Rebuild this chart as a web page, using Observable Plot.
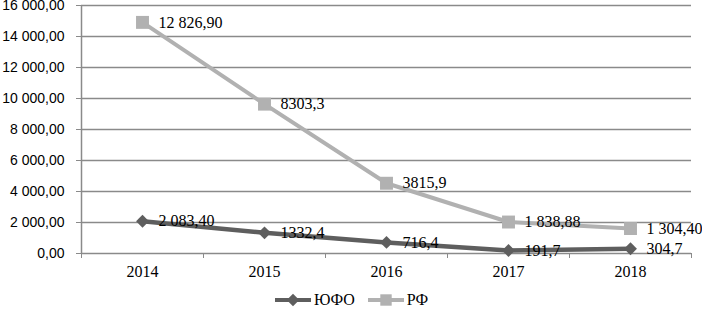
<!DOCTYPE html>
<html><head><meta charset="utf-8">
<script src="https://cdn.jsdelivr.net/npm/d3@7"></script>
<script src="https://cdn.jsdelivr.net/npm/@observablehq/plot@0.6"></script>
<style>
body{margin:0;background:#fff;width:702px;height:313px;overflow:hidden}
#legend{display:flex;justify-content:center;align-items:center;font-family:"Liberation Serif",serif;font-size:16px;height:30px;color:#000;margin-top:2px}
.item{display:flex;align-items:center;margin:0 6px}
.item svg{margin-right:2px}
</style></head><body>
<div id="chart"></div>
<div id="legend"></div>
<script>
const years = ["2014", "2015", "2016", "2017", "2018"];
const seriesNames = ["ЮФО", "РФ"];
const yufoValues = [2083.40, 1332.4, 716.4, 191.7, 304.7];
const rfValues = [12826.90, 8303.3, 3815.9, 1838.88, 1304.40];
const yufoLabels = ["2 083,40", "1332,4", "716,4", "191,7", "304,7"];
const rfLabels = ["12 826,90", "8303,3", "3815,9", "1 838,88", "1 304,40"];
const yTicks = [0, 2000, 4000, 6000, 8000, 10000, 12000, 14000, 16000];

const colors = {"ЮФО": "#5e5e5e", "РФ": "#b1b1b1"};

// stacked line chart: РФ is drawn on top of ЮФО
const rows = [];
years.forEach((yr, i) => {
  rows.push({series: "ЮФО", x: i + 0.5, y: yufoValues[i], label: yufoLabels[i]});
  rows.push({series: "РФ", x: i + 0.5, y: yufoValues[i] + rfValues[i], label: rfLabels[i]});
});
const yufoRows = rows.filter(d => d.series === "ЮФО");
const rfRows = rows.filter(d => d.series === "РФ");

const ru = d3.formatLocale({decimal: ",", thousands: " ", grouping: [3]});
const fmt = ru.format(",.2f");
const boundaries = d3.range(years.length + 1);
const centers = years.map((_, i) => i + 0.5);

const chart = Plot.plot({
  width: 702,
  height: 283,
  marginLeft: 81,
  marginRight: 11,
  marginTop: 5,
  marginBottom: 30,
  x: {type: "linear", domain: [0, years.length]},
  y: {type: "linear", domain: [0, 16000]},
  style: {background: "#fff", overflow: "visible"},
  marks: [
    Plot.gridY(yTicks, {stroke: "#8a8a8a", strokeOpacity: 1, strokeWidth: 1.5}),
    Plot.ruleX([0], {stroke: "#8a8a8a", strokeWidth: 1.5}),
    Plot.axisY({ticks: yTicks, tickFormat: fmt, tickSize: 5, tickPadding: 12, stroke: "#8a8a8a", label: null,
      fontFamily: "Liberation Sans", fontSize: 14, fill: "#000"}),
    Plot.axisX({ticks: boundaries, tickFormat: () => "", tickSize: 5, stroke: "#8a8a8a", label: null}),
    Plot.axisX({ticks: centers, tickFormat: d => years[Math.round(d - 0.5)], tickSize: 0, tickPadding: 12, label: null,
      fontFamily: "Liberation Serif", fontSize: 16, fill: "#000"}),
    Plot.line(rfRows, {x: "x", y: "y", stroke: colors["РФ"], strokeWidth: 4}),
    Plot.line(yufoRows, {x: "x", y: "y", stroke: colors["ЮФО"], strokeWidth: 4.5}),
    Plot.dot(rfRows, {x: "x", y: "y", symbol: "square", r: 7.3, fill: colors["РФ"], stroke: "none"}),
    Plot.dot(yufoRows, {x: "x", y: "y", symbol: "diamond2", r: 5.8, fill: colors["ЮФО"], stroke: "none"}),
    Plot.text(rows, {x: "x", y: "y", text: "label", textAnchor: "start", dx: 16, dy: 0,
      fontFamily: "Liberation Serif", fontSize: 16, fill: "#000"})
  ]
});
document.getElementById("chart").appendChild(chart);

// legend
const legend = document.getElementById("legend");
seriesNames.forEach(name => {
  const item = document.createElement("div");
  item.className = "item";
  const s = d3.create("svg").attr("width", 38).attr("height", 16);
  s.append("line").attr("x1", 1).attr("x2", 37).attr("y1", 8).attr("y2", 8)
    .attr("stroke", colors[name]).attr("stroke-width", 4);
  const sym = name === "ЮФО" ? d3.symbolDiamond2 : d3.symbolSquare;
  const size = name === "ЮФО" ? 100 : 130;
  s.append("path").attr("d", d3.symbol(sym, size)()).attr("transform", "translate(19,8)").attr("fill", colors[name]);
  item.appendChild(s.node());
  const t = document.createElement("span");
  t.textContent = name;
  item.appendChild(t);
  legend.appendChild(item);
});
</script>
</body></html>
